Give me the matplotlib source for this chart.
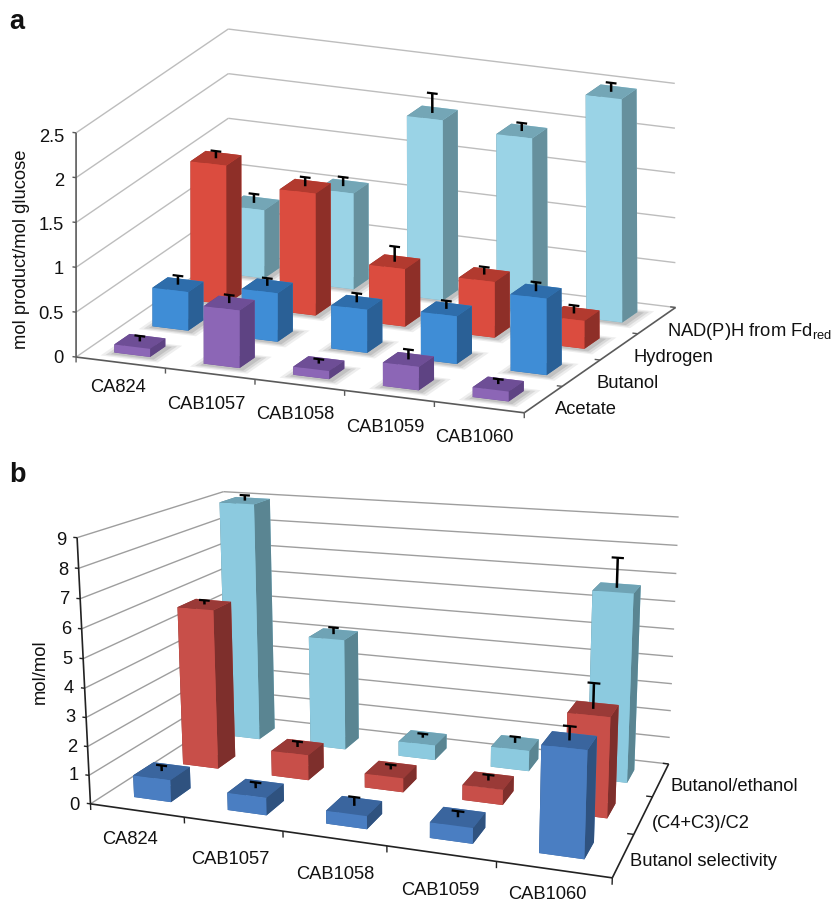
import numpy as np
import matplotlib
matplotlib.use('Agg')
import matplotlib.pyplot as plt

plt.rcParams['font.family'] = ['Liberation Sans', 'DejaVu Sans']
plt.rcParams['mathtext.default'] = 'regular'

W, H = 833, 904

strains = ['CA824', 'CAB1057', 'CAB1058', 'CAB1059', 'CAB1060']

# panel a, front row first
a_series = ['Acetate', 'Butanol', 'Hydrogen', 'NAD(P)H from Fd$_{red}$']
a_acetate = [0.09, 0.64, 0.09, 0.26, 0.11]
a_butanol = [0.43, 0.54, 0.48, 0.53, 0.85]
a_hydrogen = [1.55, 1.36, 0.64, 0.62, 0.31]
a_nadph = [0.76, 1.07, 2.01, 1.93, 2.49]
a_acetate_err = [0.06, 0.09, 0.05, 0.11, 0.055]
a_butanol_err = [0.10, 0.085, 0.10, 0.09, 0.10]
a_hydrogen_err = [0.08, 0.10, 0.17, 0.085, 0.09]
a_nadph_err = [0.10, 0.10, 0.22, 0.09, 0.10]
a_ticks = ['0', '0.5', '1', '1.5', '2', '2.5']
a_tick_vals = [0, 0.5, 1, 1.5, 2, 2.5]

# panel b, front row first
b_series = ['Butanol selectivity', '(C4+C3)/C2', 'Butanol/ethanol']
b_select = [0.77, 0.60, 0.44, 0.52, 3.45]
b_c4c3 = [5.8, 0.91, 0.50, 0.53, 3.42]
b_ratio = [9.0, 4.18, 0.55, 0.75, 6.72]
b_select_err = [0.2, 0.2, 0.3, 0.2, 0.45]
b_c4c3_err = [0.15, 0.2, 0.17, 0.2, 0.87]
b_ratio_err = [0.2, 0.25, 0.15, 0.23, 1.05]
b_ticks = [str(i) for i in range(10)]
b_tick_vals = list(range(10))

# front, top, side colours of each series
a_colors = [('#8C66B6', '#6E4E96', '#5E4383'),
            ('#3F8DD6', '#2E6DAB', '#2A6096'),
            ('#DB4C3F', '#B23A2F', '#8E2F28'),
            ('#9AD3E6', '#74A6B6', '#66909D')]
b_colors = [('#4A7EC2', '#3A659E', '#2F527F'),
            ('#C84F49', '#9A3A37', '#7E2F2C'),
            ('#8CCADF', '#6FA3B5', '#5A8592')]

# where the box corners and ticks of each chart sit in the picture: (x, y, z) -> pixel
a_world = [(0, 0, 0), (0, 0, 2.5), (0, 4, 2.5), (0, 4, 0), (5, 4, 2.5), (5, 4, 0), (5, 0, 0),
           (1, 0, 0), (2, 0, 0), (3, 0, 0), (4, 0, 0), (5, 1, 0), (5, 2, 0), (5, 3, 0),
           (0, 0, 1), (5, 4, 1)]
a_pix = [(76.7, 357.7), (76, 133.3), (228, 30), (228, 253), (675, 85), (675, 309), (523.3, 413.3),
         (165.7, 370.7), (255, 380.7), (344, 392.3), (433, 403), (563.3, 386.7), (601.7, 360), (638, 334),
         (76.5, 267.7), (675, 219.3)]
b_world = [(0, 0, 0), (0, 0, 9), (5, 0, 0), (5, 3, 0), (5, 3, 9), (0, 3, 9), (0, 3, 0), (5, 3, 5),
           (0, 0, 5), (1, 0, 0), (2, 0, 0), (3, 0, 0), (4, 0, 0), (5, 1, 0), (5, 2, 0)]
b_pix = [(90.7, 803.3), (77.3, 538.3), (611.7, 877.3), (668.3, 765), (679.3, 518.3), (222.7, 492.7),
         (230, 715), (673.3, 630.7), (84, 659), (184, 820), (282.7, 833.3), (386, 848.3), (496, 863.3),
         (635, 834), (653.3, 797.3)]


def fit_camera(world, pix):
    rows = []
    for (x, y, z), (u, v) in zip(world, pix):
        u, v = u / 500.0, v / 500.0
        rows.append([x, y, z, 1, 0, 0, 0, 0, -u * x, -u * y, -u * z, -u])
        rows.append([0, 0, 0, 0, x, y, z, 1, -v * x, -v * y, -v * z, -v])
    cam = np.linalg.svd(np.array(rows))[2][-1].reshape(3, 4)
    cam[:2] *= 500.0
    return cam / cam[2, 3]


def make_axes(world, pix):
    ax = fig.add_axes([0, 0, 1, 1], projection='3d', computed_zorder=False)
    ax.set_axis_off()
    ax.patch.set_visible(False)
    cam = fit_camera(world, pix)

    def get_proj():
        flip = np.array([[1, 0, 0], [0, -1, H], [0, 0, 1]])
        top = ax.transData.inverted().get_matrix() @ flip @ cam
        # depth stays negative, lines with points at z >= 0 get dropped
        return np.vstack([top[0], top[1], [-0.01, 0.015, -0.003, -0.5], top[2]])
    ax.get_proj = get_proj
    return ax


def line(ax, p0, p1, color, lw, zorder):
    ax.plot([p0[0], p1[0]], [p0[1], p1[1]], [p0[2], p1[2]], color=color, lw=lw,
            zorder=zorder, clip_on=False, solid_capstyle='butt')


def draw_chart(ax, values, errs, colors, zvals, grid_color, axis_color, shadow, cap_lw):
    nx, ny = len(strains), len(values)
    ztop = zvals[-1]
    for z in zvals:
        line(ax, (0, 0, z), (0, ny, z), grid_color, 1.0, 1)
        line(ax, (0, ny, z), (nx, ny, z), grid_color, 1.0, 1)
    line(ax, (0, 0, 0), (0, 0, ztop), axis_color, 1.2, 2)
    line(ax, (0, 0, 0), (nx, 0, 0), axis_color, 1.2, 2)
    line(ax, (nx, 0, 0), (nx, ny, 0), axis_color, 1.2, 2)
    dz = ztop * 0.012
    for z in zvals:
        line(ax, (0, 0, z), (-0.04, 0, z), axis_color, 1.0, 2)
    for i in range(nx + 1):
        line(ax, (i, 0, 0), (i, 0, -dz * 2), axis_color, 1.0, 2)
    for j in range(1, ny + 1):
        line(ax, (nx, j, 0), (nx - 0.06, j, 0), axis_color, 1.0, 2)

    none = (0, 0, 0, 0)
    if shadow:
        for grow, alpha in [(0.12, 0.10), (0.08, 0.14), (0.04, 0.18)]:
            for j in range(ny):
                for i in range(nx):
                    c = (0.35, 0.35, 0.35, alpha)
                    col = ax.bar3d(i + 0.3 - grow + 0.03, j + 0.3 - grow - 0.03, 0, 0.4 + 2 * grow, 0.4 + 2 * grow, 1e-4,
                                   color=[none, c, none, none, none, none], shade=False, linewidth=0)
                    col.set_zorder(3)
                    col.set_clip_on(False)

    zo = 4
    for j in range(ny - 1, -1, -1):
        front, top, side = colors[j]
        for i in range(nx):
            col = ax.bar3d(i + 0.3, j + 0.3, 0, 0.4, 0.4, values[j][i], shade=False,
                           color=[top, top, front, front, side, side], edgecolor='none', linewidth=0)
            col.set_zorder(zo)
            col.set_clip_on(False)
            zo += 1
            v = values[j][i]
            e = errs[j][i]
            line(ax, (i + 0.5, j + 0.5, v), (i + 0.5, j + 0.5, v + e), 'black', 1.8, zo)
            line(ax, (i + 0.44, j + 0.5, v + e), (i + 0.56, j + 0.5, v + e), 'black', cap_lw, zo)
            zo += 1


def put(x, y, s, **kw):
    fig.text(x / W, 1 - y / H, s, color='#111111', **kw)


fig = plt.figure(figsize=(W / 100, H / 100), dpi=100)

ax_a = make_axes(a_world, a_pix)
draw_chart(ax_a, [a_acetate, a_butanol, a_hydrogen, a_nadph],
           [a_acetate_err, a_butanol_err, a_hydrogen_err, a_nadph_err],
           a_colors, a_tick_vals, '#BDBDBD', '#5A5A5A', True, 1.6)
ax_b = make_axes(b_world, b_pix)
draw_chart(ax_b, [b_select, b_c4c3, b_ratio],
           [b_select_err, b_c4c3_err, b_ratio_err],
           b_colors, b_tick_vals, '#9E9E9E', '#222222', False, 1.6)

fs = 13.2
put(9, 29, 'a', fontsize=19.5, fontweight='bold', ha='left', va='baseline')
put(9, 482, 'b', fontsize=19.5, fontweight='bold', ha='left', va='baseline')

# tick and axis labels, placed by eye (centred text sits about 2 px high in this font)
a_tick_y = [359, 314.5, 269.5, 225, 182, 137]
for s, y in zip(a_ticks, a_tick_y):
    put(64, y, s, fontsize=fs, ha='right', va='center')
put(22, 249.5, 'mol product/mol glucose', fontsize=fs, rotation=90, ha='center', va='center')
a_cat_xy = [(117.7, 387.5), (206.7, 405), (295.7, 414.5), (385, 428), (474, 437.5)]
for s, (x, y) in zip(strains, a_cat_xy):
    put(x, y, s, fontsize=fs, ha='center', va='center')
a_ser_xy = [(555, 409.5), (596.7, 383.5), (633.3, 358), (666.7, 331.5)]
for s, (x, y) in zip(a_series, a_ser_xy):
    put(x, y, s, fontsize=fs, ha='left', va='center')

b_tick_xy = [(79.3, 806), (78.3, 776), (77.3, 747), (75, 718), (74, 689), (72.3, 659.5),
             (71.7, 629.5), (70.7, 600), (68.3, 570.5), (66.7, 541)]
for s, (x, y) in zip(b_ticks, b_tick_xy):
    put(x, y, s, fontsize=fs, ha='right', va='center')
put(40.5, 671.5, 'mol/mol', fontsize=fs, rotation=90, ha='center', va='center')
b_cat_xy = [(130, 839.5), (230, 860), (335, 874.5), (440, 891), (547.3, 894.5)]
for s, (x, y) in zip(strains, b_cat_xy):
    put(x, y, s, fontsize=fs, ha='center', va='center')
b_ser_xy = [(630, 862), (651.7, 824), (671, 786.5)]
for s, (x, y) in zip(b_series, b_ser_xy):
    put(x, y, s, fontsize=fs, ha='left', va='center')

fig.savefig('out.png', dpi=100)
